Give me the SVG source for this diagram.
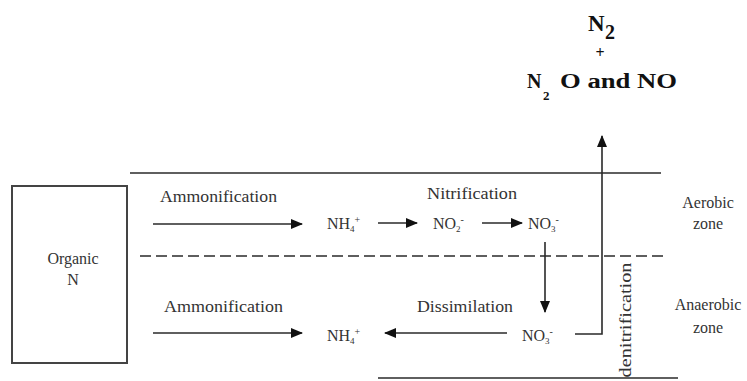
<svg xmlns="http://www.w3.org/2000/svg" width="747" height="381" viewBox="0 0 747 381">
<style>
.t{font-family:'Liberation Serif','Times New Roman',serif;fill:#333;font-size:16px}
.b{font-family:'Liberation Serif','Times New Roman',serif;fill:#111;font-weight:bold}
.ln{stroke:#2a2a2a;stroke-width:1.6;fill:none}
.ar{stroke:#2a2a2a;stroke-width:1.6;fill:none;marker-end:url(#ah)}
</style>
<defs>
<marker id="ah" viewBox="0 0 12 10" refX="11" refY="5" markerWidth="12" markerHeight="10" markerUnits="userSpaceOnUse" orient="auto">
<path d="M0,0 L12,5 L0,10 Z" fill="#111"/>
</marker>
</defs>
<g id="products">
<text class="b" x="588" y="31" font-size="23">N</text>
<text class="b" x="605" y="39" font-size="20" font-weight="normal">2</text>
<text class="b" x="600" y="58" font-size="16" text-anchor="middle">+</text>
<text class="b" x="527" y="88" font-size="20">N</text>
<text class="b" x="543" y="100" font-size="13">2</text>
<text class="b" x="560" y="88" font-size="20" textLength="117" lengthAdjust="spacingAndGlyphs">O and NO</text>
</g>
<g id="organic-n">
<rect x="12" y="186" width="115" height="177" fill="none" stroke="#444" stroke-width="2"/>
<text class="t" x="73" y="264" text-anchor="middle" font-size="15">Organic</text>
<text class="t" x="73" y="285" text-anchor="middle" font-size="15">N</text>
</g>
<g id="zones">
<text class="t" x="708" y="208" text-anchor="middle" font-size="15">Aerobic</text>
<text class="t" x="708" y="229" text-anchor="middle" font-size="15">zone</text>
<text class="t" x="708" y="310" text-anchor="middle" font-size="15">Anaerobic</text>
<text class="t" x="708" y="333" text-anchor="middle" font-size="15">zone</text>
</g>
<g id="aerobic-species">
<text class="t" x="327" y="229" font-size="15">NH<tspan font-size="9" dy="3">4</tspan><tspan font-size="10" dy="-9">+</tspan></text>
<text class="t" x="433" y="229" font-size="15">NO<tspan font-size="9" dy="3">2</tspan><tspan font-size="10" dy="-9">-</tspan></text>
<text class="t" x="528" y="229" font-size="15">NO<tspan font-size="9" dy="3">3</tspan><tspan font-size="10" dy="-9">-</tspan></text>
</g>
<g id="anaerobic-species">
<text class="t" x="327" y="341" font-size="15">NH<tspan font-size="9" dy="3">4</tspan><tspan font-size="10" dy="-9">+</tspan></text>
<text class="t" x="522" y="341" font-size="15">NO<tspan font-size="9" dy="3">3</tspan><tspan font-size="10" dy="-9">-</tspan></text>
</g>
<g id="labels">
<text class="t" x="160" y="202" textLength="117" lengthAdjust="spacingAndGlyphs">Ammonification</text>
<text class="t" x="164" y="312" textLength="119" lengthAdjust="spacingAndGlyphs">Ammonification</text>
<text class="t" x="427" y="199" textLength="90" lengthAdjust="spacingAndGlyphs">Nitrification</text>
<text class="t" x="417" y="312" textLength="96" lengthAdjust="spacingAndGlyphs">Dissimilation</text>
<text class="t" transform="translate(631,320) rotate(-90)" text-anchor="middle" textLength="115" lengthAdjust="spacingAndGlyphs">denitrification</text>
</g>
<g id="connectors">
<line class="ln" x1="130" y1="173" x2="661" y2="173"/>
<line class="ln" x1="140" y1="256" x2="668" y2="256" stroke-dasharray="11 5"/>
<line class="ln" x1="378" y1="378" x2="678" y2="378"/>
<line class="ar" x1="153" y1="224" x2="302" y2="224"/>
<line class="ar" x1="153" y1="333" x2="302" y2="333"/>
<line class="ar" x1="378" y1="223" x2="417" y2="223"/>
<line class="ar" x1="482" y1="223" x2="522" y2="223"/>
<line class="ar" x1="545" y1="242" x2="545" y2="312"/>
<line class="ar" x1="507" y1="333" x2="385" y2="333"/>
<polyline class="ar" points="575,334 602,334 602,136"/>
</g>
</svg>
